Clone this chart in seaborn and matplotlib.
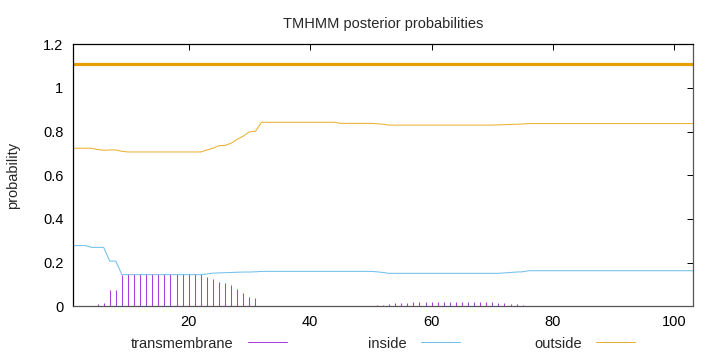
import matplotlib
matplotlib.use("Agg")
import matplotlib.pyplot as plt
import seaborn as sns
import pandas as pd
from matplotlib.lines import Line2D
from matplotlib.ticker import FuncFormatter

# residue positions 1..103
positions = list(range(1, 104))

# transmembrane posterior (drawn as impulses)
tm_prob = [
    0.000, 0.000, 0.000, 0.003, 0.012, 0.017, 0.075, 0.075, 0.145, 0.148,
    0.148, 0.148, 0.148, 0.148, 0.148, 0.148, 0.148, 0.148, 0.148, 0.148,
    0.148, 0.148, 0.134, 0.124, 0.111, 0.109, 0.098, 0.079, 0.063, 0.044,
    0.040, 0.000, 0.000, 0.000, 0.000, 0.000, 0.000, 0.000, 0.000, 0.000,
    0.000, 0.000, 0.000, 0.000, 0.000, 0.002, 0.002, 0.002, 0.003, 0.003,
    0.005, 0.008, 0.011, 0.014, 0.016, 0.017, 0.019, 0.019, 0.019, 0.019,
    0.019, 0.019, 0.019, 0.019, 0.019, 0.019, 0.019, 0.019, 0.019, 0.019,
    0.017, 0.015, 0.012, 0.010, 0.008, 0.000, 0.000, 0.000, 0.000, 0.000,
    0.000, 0.000, 0.000, 0.000, 0.000, 0.000, 0.000, 0.000, 0.000, 0.000,
    0.000, 0.000, 0.000, 0.000, 0.000, 0.000, 0.000, 0.000, 0.000, 0.000,
    0.000, 0.000, 0.000,
]

inside_prob = [
    0.278, 0.278, 0.278, 0.270, 0.270, 0.270, 0.207, 0.207, 0.145, 0.145,
    0.145, 0.145, 0.145, 0.145, 0.145, 0.145, 0.145, 0.145, 0.145, 0.145,
    0.145, 0.145, 0.148, 0.152, 0.153, 0.154, 0.155, 0.156, 0.157, 0.157,
    0.158, 0.160, 0.160, 0.160, 0.160, 0.160, 0.160, 0.160, 0.160, 0.160,
    0.160, 0.160, 0.160, 0.160, 0.160, 0.160, 0.160, 0.160, 0.160, 0.160,
    0.158, 0.155, 0.151, 0.151, 0.151, 0.151, 0.151, 0.151, 0.151, 0.151,
    0.151, 0.151, 0.151, 0.151, 0.151, 0.151, 0.151, 0.151, 0.151, 0.151,
    0.151, 0.153, 0.155, 0.157, 0.158, 0.163, 0.163, 0.163, 0.163, 0.163,
    0.163, 0.163, 0.163, 0.163, 0.163, 0.163, 0.163, 0.163, 0.163, 0.163,
    0.163, 0.163, 0.163, 0.163, 0.163, 0.163, 0.163, 0.163, 0.163, 0.163,
    0.163, 0.163, 0.163,
]

outside_prob = [
    0.724, 0.724, 0.724, 0.724, 0.718, 0.715, 0.716, 0.716, 0.710, 0.707,
    0.707, 0.707, 0.707, 0.707, 0.707, 0.707, 0.707, 0.707, 0.707, 0.707,
    0.707, 0.707, 0.716, 0.724, 0.736, 0.737, 0.747, 0.765, 0.780, 0.799,
    0.802, 0.843, 0.843, 0.843, 0.843, 0.843, 0.843, 0.843, 0.843, 0.843,
    0.843, 0.843, 0.843, 0.843, 0.838, 0.838, 0.838, 0.838, 0.838, 0.838,
    0.836, 0.834, 0.830, 0.830, 0.830, 0.830, 0.830, 0.830, 0.830, 0.830,
    0.830, 0.830, 0.830, 0.830, 0.830, 0.830, 0.830, 0.830, 0.830, 0.830,
    0.831, 0.832, 0.833, 0.834, 0.835, 0.837, 0.837, 0.837, 0.837, 0.837,
    0.837, 0.837, 0.837, 0.837, 0.837, 0.837, 0.837, 0.837, 0.837, 0.837,
    0.837, 0.837, 0.837, 0.837, 0.837, 0.837, 0.837, 0.837, 0.837, 0.837,
    0.837, 0.837, 0.837,
]

# predicted topology bar (whole sequence outside)
topo_x = [1, 103]
topo_y = [1.11, 1.11]

x_ticks = [20, 40, 60, 80, 100]
y_ticks = [0, 0.2, 0.4, 0.6, 0.8, 1.0, 1.2]

# gnuplot default colours, a touch lighter to mimic its thin antialiased lines
TM_COLOR = "#A93FE0"
IN_COLOR = "#72C0EC"
OUT_COLOR = "#E69F00"
OUT_LINE = "#EBB033"

sns.set_theme(style="white")
plt.rcParams["font.family"] = ["Liberation Sans", "DejaVu Sans"]

df = pd.DataFrame({
    "position": positions,
    "transmembrane": tm_prob,
    "inside": inside_prob,
    "outside": outside_prob,
})

fig = plt.figure(figsize=(7.2, 3.52), dpi=100)
ax = fig.add_axes([0.1018, 0.1298, 0.8603, 0.7443])

ax.vlines(df["position"], 0, df["transmembrane"], color=TM_COLOR, lw=0.75)
sns.lineplot(data=df, x="position", y="inside", color=IN_COLOR, lw=0.75, ax=ax)
sns.lineplot(data=df, x="position", y="outside", color=OUT_LINE, lw=0.75, ax=ax)
sns.lineplot(x=topo_x, y=topo_y, color=OUT_COLOR, lw=2.3, ax=ax)

ax.set_xlim(1, 103)
ax.set_ylim(0, 1.2)
ax.set_xticks(x_ticks)
ax.set_yticks(y_ticks)
ax.yaxis.set_major_formatter(FuncFormatter(lambda v, p: f"{v:g}"))
ax.tick_params(direction="in", length=4, width=0.7, top=True, right=True,
               labelsize=10.5, colors="black")
ax.tick_params(axis="x", pad=6.4)
ax.tick_params(axis="y", pad=7.2)
for s in ax.spines.values():
    s.set_visible(True)
    s.set_color("black")
    s.set_linewidth(0.9)
ax.spines["right"].set_color("#555555")
ax.spines["bottom"].set_color("#555555")

ax.set_xlabel("")
ax.set_ylabel("probability", fontsize=10.5)
ax.yaxis.set_label_coords(-0.0852, 0.5)
ax.set_title("TMHMM posterior probabilities", fontsize=10.5, pad=11.5)

# gnuplot-style key: text then sample, three entries along the bottom
for label, col, xr in [("transmembrane", TM_COLOR, 0.398),
                       ("inside", IN_COLOR, 0.639),
                       ("outside", OUT_LINE, 0.882)]:
    fig.legend(handles=[Line2D([], [], color=col, lw=0.75)], labels=[label],
               loc="center right", bbox_to_anchor=(xr, 0.024),
               frameon=False, markerfirst=False, handlelength=2.65,
               handletextpad=1.0, borderpad=0, borderaxespad=0,
               fontsize=10.5)

fig.savefig("out.png", dpi=100)
